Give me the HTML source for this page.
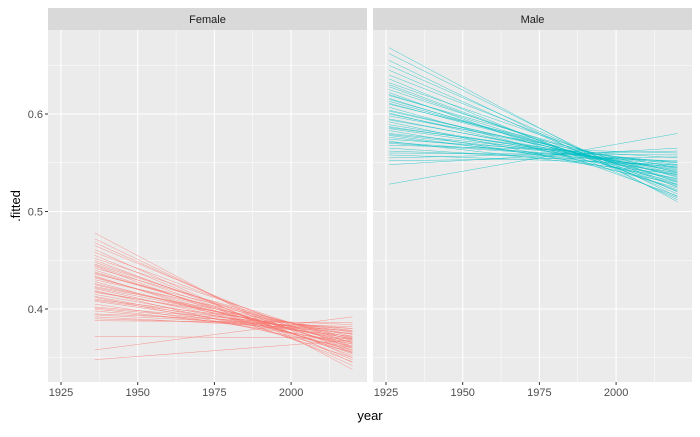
<!DOCTYPE html>
<html><head><meta charset="utf-8"><style>
body{margin:0;background:#fff;font-family:"Liberation Sans",Arial,sans-serif}
</style></head><body>
<svg id="chart" width="700" height="432" xmlns="http://www.w3.org/2000/svg" font-family="Liberation Sans, Arial, sans-serif"></svg>
<script>
const xTicks=[1925,1950,1975,2000];
const yTicks=[0.4,0.5,0.6];
const facets=["Female","Male"];
const femaleStartYear=1936, maleStartYear=1926, endYear=2020;
const femaleStart=[0.478,0.472,0.468,0.465,0.461,0.458,0.455,0.452,0.450,0.448,0.446,0.444,0.442,0.440,0.438,0.436,0.434,0.432,0.430,0.428,0.425,0.423,0.421,0.419,0.417,0.415,0.412,0.410,0.408,0.405,0.402,0.400,0.398,0.395,0.392,0.390,0.388,0.372,0.358,0.348,0.445,0.437,0.426,0.418,0.409,0.401,0.394,0.433,0.422,0.413];
const femaleEnd=[0.338,0.345,0.350,0.355,0.342,0.360,0.348,0.365,0.352,0.358,0.362,0.346,0.368,0.355,0.360,0.370,0.350,0.364,0.372,0.358,0.366,0.374,0.362,0.356,0.376,0.368,0.360,0.378,0.370,0.366,0.380,0.372,0.375,0.384,0.378,0.382,0.386,0.370,0.392,0.368,0.354,0.361,0.366,0.371,0.374,0.377,0.380,0.357,0.369,0.364];
const maleStart=[0.668,0.662,0.655,0.650,0.645,0.640,0.636,0.632,0.628,0.625,0.622,0.619,0.616,0.613,0.610,0.607,0.604,0.601,0.598,0.595,0.592,0.589,0.586,0.583,0.580,0.578,0.576,0.574,0.572,0.570,0.568,0.565,0.562,0.560,0.558,0.555,0.552,0.548,0.528,0.630,0.620,0.611,0.603,0.594,0.587,0.579,0.571,0.600,0.615,0.585];
const maleEnd=[0.510,0.515,0.512,0.520,0.518,0.525,0.514,0.530,0.522,0.528,0.516,0.535,0.526,0.532,0.540,0.524,0.536,0.530,0.545,0.538,0.528,0.542,0.548,0.534,0.550,0.540,0.545,0.555,0.538,0.550,0.560,0.546,0.552,0.558,0.548,0.562,0.556,0.565,0.580,0.521,0.527,0.533,0.537,0.541,0.544,0.547,0.551,0.539,0.531,0.543];

const svg=document.getElementById('chart');
const NS='http://www.w3.org/2000/svg';
function mk(t,a,p){const e=document.createElementNS(NS,t);for(const k in a)e.setAttribute(k,a[k]);(p||svg).appendChild(e);return e;}
const panels=[{x0:48,x1:367},{x0:373,x1:692}];
const pTop=30,pBot=382;
function xS(p,yr){return p.x0+13+(yr-1925)*(76.7/25);}
function yS(v){return 114+(0.6-v)*975;}

panels.forEach((p,i)=>{
  const g=mk('g',{});
  
  
  mk('rect',{x:p.x0,y:pTop,width:p.x1-p.x0,height:pBot-pTop,fill:'#EBEBEB'},g);
  const s=mk('rect',{x:p.x0,y:8,width:p.x1-p.x0,height:22,fill:'#D9D9D9'},g);
  
  
  const st=mk('text',{x:(p.x0+p.x1)/2,y:23,'text-anchor':'middle','font-size':'11',fill:'#1A1A1A'},g);
  st.textContent=facets[i];
  
  
  for(let k=0;k<xTicks.length;k++){const yr=xTicks[k]+12.5;const x=xS(p,yr);if(x<p.x1)mk('line',{x1:x,x2:x,y1:pTop,y2:pBot,stroke:'#fff','stroke-width':0.5},g);}
  [0.35,0.45,0.55,0.65].forEach(v=>mk('line',{x1:p.x0,x2:p.x1,y1:yS(v),y2:yS(v),stroke:'#fff','stroke-width':0.5},g));
  xTicks.forEach(t=>{const x=xS(p,t);mk('line',{x1:x,x2:x,y1:pTop,y2:pBot,stroke:'#fff','stroke-width':1.1},g);
    mk('line',{x1:x,x2:x,y1:pBot,y2:pBot+3,stroke:'#333','stroke-width':1},g);
    const tl=mk('text',{x:x,y:pBot+14,'text-anchor':'middle','font-size':'11',fill:'#4D4D4D'},g);tl.textContent=t;
    
    });
  yTicks.forEach(v=>mk('line',{x1:p.x0,x2:p.x1,y1:yS(v),y2:yS(v),stroke:'#fff','stroke-width':1.1},g));
  const st0=i==0?femaleStart:maleStart, en=i==0?femaleEnd:maleEnd, sy=i==0?femaleStartYear:maleStartYear;
  const col=i==0?'#F8766D':'#00BFC4';
  for(let k=0;k<st0.length;k++){
    const l=mk('line',{x1:xS(p,sy),y1:yS(st0[k]),x2:xS(p,endYear),y2:yS(en[k]),stroke:col,'stroke-width':0.5,'stroke-opacity':0.75},g);
    
    
  }
});
yTicks.forEach(v=>{
  mk('line',{x1:45,x2:48,y1:yS(v),y2:yS(v),stroke:'#333','stroke-width':1});
  const t=mk('text',{x:43,y:yS(v)+4,'text-anchor':'end','font-size':'11',fill:'#4D4D4D'});t.textContent=v.toFixed(1);
  
  
});
const xt=mk('text',{x:370,y:420,'text-anchor':'middle','font-size':'13',fill:'#000'});xt.textContent='year';


const yt=mk('text',{x:0,y:0,'text-anchor':'middle','font-size':'13',fill:'#000',transform:'translate(20,206) rotate(-90)'});yt.textContent='.fitted';


</script>
</body></html>
